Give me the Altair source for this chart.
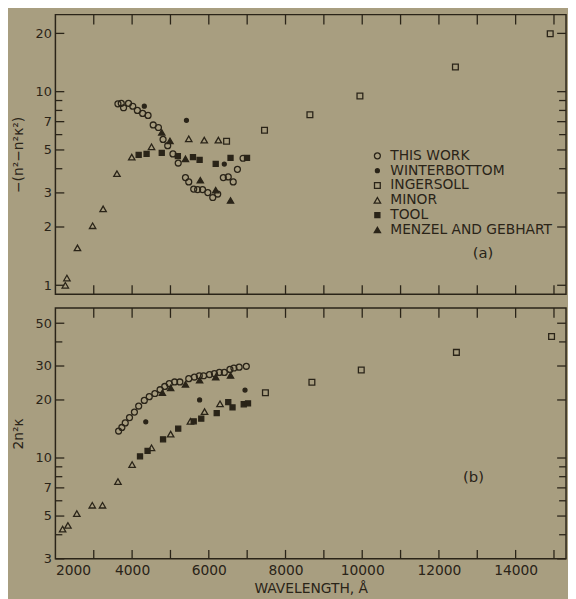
import altair as alt
import pandas as pd

# ---------------- data ----------------
SERIES = ["THIS WORK", "WINTERBOTTOM", "INGERSOLL", "MINOR", "TOOL", "MENZEL AND GEBHART"]

# panel (a): -(n^2 - n^2 k^2)
a_this_lam = [3630, 3717, 3777, 3906, 4017, 4137, 4275, 4416, 4550, 4686, 4807, 4928, 5065, 5202,
              5391, 5477, 5606, 5708, 5837, 5974, 6103, 6232, 6378, 6507, 6636, 6746, 6893]
a_this_val = [8.65, 8.71, 8.26, 8.71, 8.41, 8.0, 7.72, 7.54, 6.73, 6.53, 5.67, 5.26, 4.77, 4.28,
              3.60, 3.42, 3.14, 3.12, 3.12, 3.01, 2.84, 2.96, 3.60, 3.63, 3.42, 3.97, 4.53]
a_wint_lam = [4318, 5417, 6404]
a_wint_val = [8.41, 7.11, 4.23]
a_ing_lam = [6463, 7452, 8636, 9940, 12430, 14902]
a_ing_val = [5.54, 6.32, 7.60, 9.51, 13.4, 19.9]
a_minor_lam = [2258, 2300, 2575, 2970, 3244, 3605, 3991, 4506, 5477, 5881, 6249]
a_minor_val = [1.00, 1.09, 1.56, 2.03, 2.48, 3.77, 4.59, 5.19, 5.71, 5.62, 5.62]
a_tool_lam = [4171, 4377, 4773, 5193, 5587, 5760, 6180, 6566, 6996]
a_tool_val = [4.72, 4.77, 4.83, 4.65, 4.59, 4.44, 4.24, 4.55, 4.55]
a_menz_lam = [4773, 4988, 5391, 5778, 6180, 6566]
a_menz_val = [6.16, 5.57, 4.50, 3.49, 3.10, 2.74]

# panel (b): 2 n^2 k
b_this_lam = [3648, 3733, 3821, 3932, 4060, 4171, 4318, 4447, 4593, 4730, 4851, 4969, 5108, 5245,
              5477, 5624, 5752, 5863, 6017, 6146, 6275, 6404, 6551, 6654, 6790, 6978]
b_this_val = [13.8, 14.4, 15.2, 16.2, 17.3, 18.6, 19.9, 20.8, 21.6, 22.6, 23.5, 24.3, 24.8, 24.8,
              25.8, 26.3, 26.7, 26.7, 27.1, 27.4, 27.8, 27.8, 28.8, 29.3, 29.6, 29.9]
b_wint_lam = [4356, 5760, 6944]
b_wint_val = [15.4, 20.0, 22.5]
b_ing_lam = [7476, 8688, 9975, 12456, 14937]
b_ing_val = [21.8, 24.7, 28.6, 35.3, 42.7]
b_minor_lam = [2188, 2327, 2558, 2961, 3228, 3631, 4000, 4506, 5005, 5520, 5889, 6292]
b_minor_val = [4.28, 4.47, 5.15, 5.69, 5.69, 7.55, 9.25, 11.3, 13.3, 15.5, 17.4, 19.1]
b_tool_lam = [4206, 4403, 4807, 5202, 5606, 5803, 6206, 6507, 6618, 6911, 7022]
b_tool_val = [10.2, 10.9, 12.5, 14.2, 15.5, 16.0, 17.1, 19.5, 18.3, 19.0, 19.2]
b_menz_lam = [4789, 5005, 5391, 5760, 6180, 6566]
b_menz_val = [21.8, 23.1, 24.1, 25.3, 26.3, 26.8]

# axis ticks / labels
x_domain = [2000, 15314]
x_label_values = [2000, 4000, 6000, 8000, 10000, 12000, 14000]
x_tick_values = [3000, 4000, 5000, 6000, 7000, 8000, 9000, 10000, 11000, 12000, 13000, 14000, 15000]
a_domain = [0.9, 25]
a_label_values = [1, 2, 3, 5, 7, 10, 20]
a_minor_values = [4, 6, 8, 9]
b_domain = [3, 60]
b_label_values = [3, 5, 7, 10, 20, 30, 50]
b_minor_values = [4, 6, 8, 9, 40]

panel_labels = {"a": ("(a)", 13150, 1.47), "b": ("(b)", 12900, 8.0)}

# ---------------- styling ----------------
BG = "#A89E80"
INK = "#2A2418"
FONT = "DejaVu Sans"
W = 517
H_A = 283
H_B = 254
TICK_MAJ = 9
TICK_MIN = 7
PAD = {"left": 2, "top": 1, "right": 0, "bottom": 2}

shape_range = ["circle", "circle", "square", "triangle-up", "square", "triangle-up"]
fill_range = ["transparent", INK, "transparent", "transparent", INK, INK]
stroke_range = [INK] * 6
size_range = [36, 16, 34, 42, 26, 40]


def frame(series_lists):
    rows = []
    for name, lam, val in series_lists:
        for l, v in zip(lam, val):
            rows.append({"lam": l, "val": v, "series": name})
    return pd.DataFrame(rows)


def panel(df, ydomain, ylabels, yminor, ytitle, height, show_x, show_legend, label):
    xs = alt.Scale(domain=x_domain, nice=False, zero=False)
    ys = alt.Scale(type="log", domain=ydomain, nice=False)
    if show_x:
        xaxis = alt.Axis(values=x_label_values, format="d", ticks=False, tickSize=0, grid=False,
                         domain=False, labelFontSize=14, labelPadding=5, title="WAVELENGTH, Å",
                         titleFontSize=14, titleFontWeight="normal", titlePadding=4)
    else:
        xaxis = None
    yaxis = alt.Axis(values=ylabels, format="~g", ticks=False, tickSize=0, grid=False, domain=False,
                     labelFontSize=13, labelPadding=4, title=ytitle, titleFontSize=14,
                     titleFontWeight="normal", titlePadding=10)
    if show_legend:
        legend = alt.Legend(title=None, orient="none", legendX=319, legendY=136,
                            labelFontSize=14, labelFont=FONT, rowPadding=1, labelColor=INK,
                            labelOffset=6, symbolStrokeWidth=1.3, labelLimit=260)
    else:
        legend = None

    pts = alt.Chart(df).mark_point(strokeWidth=1.3, opacity=1).encode(
        x=alt.X("lam:Q", scale=xs, axis=xaxis),
        y=alt.Y("val:Q", scale=ys, axis=yaxis),
        shape=alt.Shape("series:N", scale=alt.Scale(domain=SERIES, range=shape_range), legend=legend),
        fill=alt.Fill("series:N", scale=alt.Scale(domain=SERIES, range=fill_range), legend=legend),
        stroke=alt.Stroke("series:N", scale=alt.Scale(domain=SERIES, range=stroke_range), legend=legend),
        size=alt.Size("series:N", scale=alt.Scale(type="ordinal", domain=SERIES, range=size_range),
                      legend=legend),
    )

    xt = pd.DataFrame({"lam": x_tick_values})
    top_ticks = alt.Chart(xt).mark_rule(color=INK, strokeWidth=1.3).encode(
        x=alt.X("lam:Q", scale=xs), y=alt.value(0), y2=alt.value(TICK_MAJ + 1))
    bot_ticks = alt.Chart(xt).mark_rule(color=INK, strokeWidth=1.3).encode(
        x=alt.X("lam:Q", scale=xs), y=alt.value(height), y2=alt.value(height - TICK_MAJ))

    layers = [top_ticks, bot_ticks]
    for vals, ln in ((ylabels, TICK_MAJ), (yminor, TICK_MIN)):
        yt = pd.DataFrame({"val": vals})
        layers.append(alt.Chart(yt).mark_rule(color=INK, strokeWidth=1.3).encode(
            y=alt.Y("val:Q", scale=ys), x=alt.value(0), x2=alt.value(ln)))
        layers.append(alt.Chart(yt).mark_rule(color=INK, strokeWidth=1.3).encode(
            y=alt.Y("val:Q", scale=ys), x=alt.value(W), x2=alt.value(W - ln)))

    txt, tl, tv = label
    lab = alt.Chart(pd.DataFrame({"lam": [tl], "val": [tv], "t": [txt]})).mark_text(
        fontSize=15, font=FONT, color=INK).encode(
        x=alt.X("lam:Q", scale=xs), y=alt.Y("val:Q", scale=ys), text="t:N")

    return alt.layer(pts, *layers, lab).properties(width=W, height=height)


df_a = frame([
    ("THIS WORK", a_this_lam, a_this_val),
    ("WINTERBOTTOM", a_wint_lam, a_wint_val),
    ("INGERSOLL", a_ing_lam, a_ing_val),
    ("MINOR", a_minor_lam, a_minor_val),
    ("TOOL", a_tool_lam, a_tool_val),
    ("MENZEL AND GEBHART", a_menz_lam, a_menz_val),
])
df_b = frame([
    ("THIS WORK", b_this_lam, b_this_val),
    ("WINTERBOTTOM", b_wint_lam, b_wint_val),
    ("INGERSOLL", b_ing_lam, b_ing_val),
    ("MINOR", b_minor_lam, b_minor_val),
    ("TOOL", b_tool_lam, b_tool_val),
    ("MENZEL AND GEBHART", b_menz_lam, b_menz_val),
])

top = panel(df_a, a_domain, a_label_values, a_minor_values, "−(n²−n²κ²)", H_A, False, True,
            panel_labels["a"])
bottom = panel(df_b, b_domain, b_label_values, b_minor_values, "2n²κ", H_B, True, False,
               panel_labels["b"])

chart = alt.vconcat(top, bottom, spacing=10).resolve_scale(
    shape="independent", fill="independent", size="independent", stroke="independent"
).properties(
    background=BG,
    padding=PAD,
).configure(
    padding=PAD
).configure_view(
    stroke=INK, strokeWidth=1.5
).configure_axis(
    labelFont=FONT, titleFont=FONT, labelColor=INK, titleColor=INK
).configure_text(font=FONT)

chart.save("out.html", embed_options={"renderer": "svg", "actions": False})
